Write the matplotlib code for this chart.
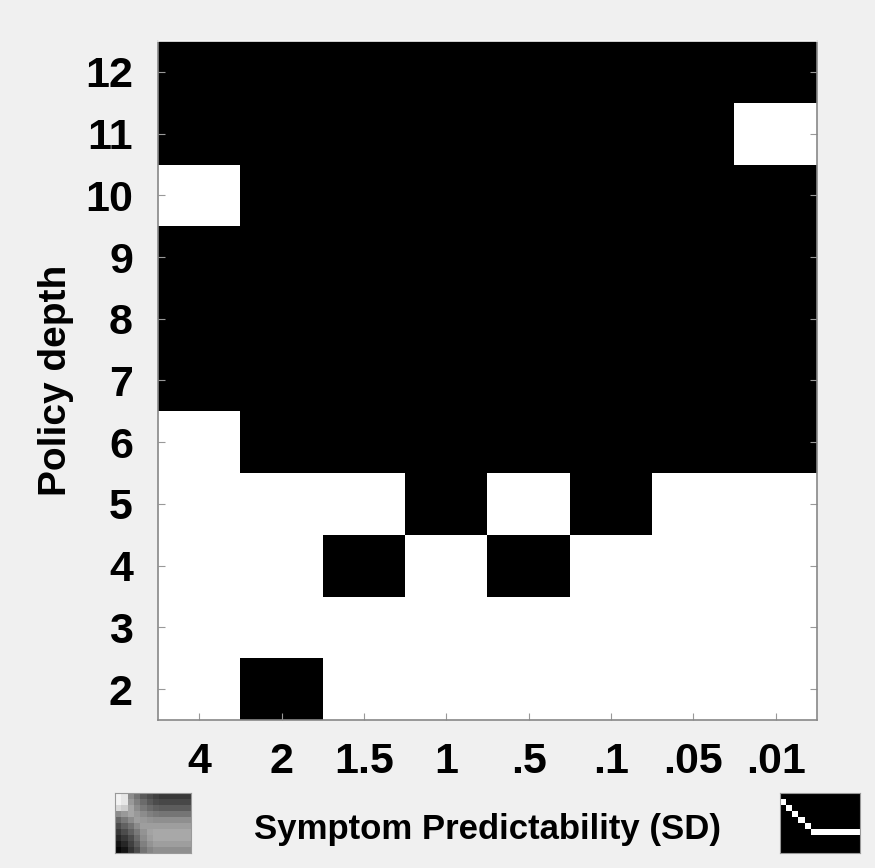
import numpy as np
import matplotlib.pyplot as plt

# symptom predictability (SD) columns and policy depth rows
sd_labels = ['4', '2', '1.5', '1', '.5', '.1', '.05', '.01']
depths = [2, 3, 4, 5, 6, 7, 8, 9, 10, 11, 12]

# 1 = black cell, 0 = white cell, rows ordered by depth 2..12
depth2 = [0, 1, 0, 0, 0, 0, 0, 0]
depth3 = [0, 0, 0, 0, 0, 0, 0, 0]
depth4 = [0, 0, 1, 0, 1, 0, 0, 0]
depth5 = [0, 0, 0, 1, 0, 1, 0, 0]
depth6 = [0, 1, 1, 1, 1, 1, 1, 1]
depth7 = [1, 1, 1, 1, 1, 1, 1, 1]
depth8 = [1, 1, 1, 1, 1, 1, 1, 1]
depth9 = [1, 1, 1, 1, 1, 1, 1, 1]
depth10 = [0, 1, 1, 1, 1, 1, 1, 1]
depth11 = [1, 1, 1, 1, 1, 1, 1, 0]
depth12 = [1, 1, 1, 1, 1, 1, 1, 1]

grid = np.array([depth2, depth3, depth4, depth5, depth6, depth7,
                 depth8, depth9, depth10, depth11, depth12])

# little icons under the axis
gradient_icon = np.array([
    [0.95, 0.90, 0.55, 0.45, 0.35, 0.30, 0.25, 0.22, 0.22, 0.22, 0.22, 0.22],
    [0.95, 0.90, 0.60, 0.50, 0.42, 0.35, 0.30, 0.28, 0.28, 0.28, 0.28, 0.28],
    [0.85, 0.80, 0.65, 0.55, 0.48, 0.42, 0.38, 0.36, 0.36, 0.36, 0.36, 0.36],
    [0.55, 0.60, 0.65, 0.60, 0.55, 0.50, 0.48, 0.46, 0.46, 0.46, 0.46, 0.46],
    [0.40, 0.48, 0.55, 0.62, 0.60, 0.58, 0.56, 0.56, 0.56, 0.56, 0.56, 0.56],
    [0.30, 0.38, 0.45, 0.55, 0.62, 0.62, 0.62, 0.62, 0.62, 0.62, 0.62, 0.62],
    [0.22, 0.30, 0.38, 0.48, 0.58, 0.64, 0.66, 0.66, 0.66, 0.66, 0.66, 0.66],
    [0.15, 0.22, 0.30, 0.42, 0.55, 0.62, 0.66, 0.66, 0.66, 0.66, 0.66, 0.66],
    [0.08, 0.15, 0.25, 0.36, 0.50, 0.58, 0.62, 0.62, 0.62, 0.62, 0.62, 0.62],
    [0.02, 0.08, 0.20, 0.30, 0.45, 0.52, 0.56, 0.56, 0.56, 0.56, 0.56, 0.56],
])

stair_icon = np.zeros((10, 13))
stair_steps = [(1, 0), (2, 1), (3, 2), (4, 3), (5, 4)]
for r, c in stair_steps:
    stair_icon[r, c] = 1
stair_icon[6, 5:] = 1

plt.rcParams['font.family'] = ['Liberation Sans Narrow', 'Liberation Sans', 'DejaVu Sans']
plt.rcParams['font.weight'] = 'bold'

fig = plt.figure(figsize=(8.75, 8.68), dpi=100, facecolor='#f0f0f0')
W, H = 875, 868
ax = fig.add_axes([158 / W, 1 - 720 / H, (817 - 158) / W, (720 - 41) / H])

ax.imshow(grid, cmap='gray_r', vmin=0, vmax=1, origin='lower', aspect='auto',
          interpolation='nearest',
          extent=(-0.5, len(sd_labels) - 0.5, depths[0] - 0.5, depths[-1] + 0.5))

ax.set_xticks(range(len(sd_labels)))
ax.set_xticklabels(sd_labels)
ax.set_yticks(depths)
ax.set_yticklabels([str(d) for d in depths])
ax.tick_params(axis='both', direction='in', length=5, color='#999999',
               labelsize=31)
ax.tick_params(axis='x', pad=16)
ax.tick_params(axis='y', right=True, pad=18)
for sp in ax.spines.values():
    sp.set_color('#888888')
    sp.set_linewidth(1.2)
ax.spines['top'].set_color('#f8f8f8')

ax.set_ylabel('Policy depth', fontsize=28, fontweight='bold', labelpad=8)
fig.text(487 / W, 1 - 830 / H, 'Symptom Predictability (SD)', fontsize=25,
         fontweight='bold', ha='center', va='center')

ax_l = fig.add_axes([115 / W, 1 - 853 / H, 76 / W, 60 / H])
ax_l.imshow(gradient_icon, cmap='gray', vmin=0, vmax=1, aspect='auto',
            interpolation='nearest')
ax_l.set_xticks([])
ax_l.set_yticks([])
for sp in ax_l.spines.values():
    sp.set_color('#999999')

ax_r = fig.add_axes([780 / W, 1 - 853 / H, 80 / W, 60 / H])
ax_r.imshow(stair_icon, cmap='gray', vmin=0, vmax=1, aspect='auto',
            interpolation='nearest')
ax_r.set_xticks([])
ax_r.set_yticks([])
for sp in ax_r.spines.values():
    sp.set_color('#999999')

fig.savefig('out.png', dpi=100, facecolor=fig.get_facecolor())
